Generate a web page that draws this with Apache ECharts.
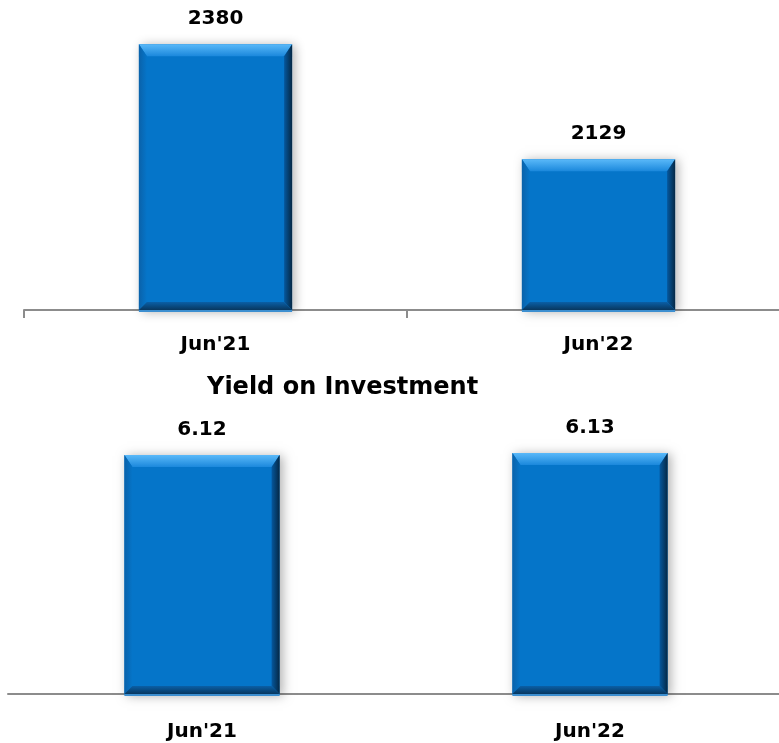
<!DOCTYPE html>
<html>
<head>
<meta charset="utf-8">
<style>
  html, body { margin: 0; padding: 0; background: #ffffff; overflow: hidden; }
  #chart { width: 800px; height: 743px; }
</style>
<script src="https://cdn.jsdelivr.net/npm/echarts@6/dist/echarts.min.js"></script>
</head>
<body>
<div id="chart"></div>
<script>
// Period labels shared by both panels
const categories = ["Jun'21", "Jun'22"];
// Upper panel values
const upperValues = [2380, 2129];
// Lower panel: yield on investment (%)
const yieldValues = [6.12, 6.13];
const yieldTitle = 'Yield on Investment';

const FONT = 'DejaVu Sans';

// Bevelled bar drawn through the axis scales of its own grid
function bevelBar(baseValue) {
  return function (params, api) {
    const idx = api.value(0);
    const val = api.value(1);
    const top = api.coord([idx, val]);
    const base = api.coord([idx, baseValue]);
    const w = api.size([1, 0])[0] * 0.4;
    const x0 = top[0] - w / 2, x1 = top[0] + w / 2;
    const y0 = top[1], y1 = base[1];
    const bs = 8, bt = 12, bb = 8;
    const lg = (x, y, x2, y2, a, b) => new echarts.graphic.LinearGradient(x, y, x2, y2, [
      { offset: 0, color: a }, { offset: 1, color: b }
    ]);
    return {
      type: 'group',
      children: [
        {
          type: 'rect',
          shape: { x: x0, y: y0, width: w, height: y1 - y0 + 1 },
          style: { fill: '#0575c9', shadowBlur: 10, shadowOffsetX: 3, shadowOffsetY: 1, shadowColor: 'rgba(0,0,0,0.3)' }
        },
        {
          type: 'polygon',
          shape: { points: [[x0, y0], [x1, y0], [x1 - bs, y0 + bt], [x0 + bs, y0 + bt]] },
          style: { fill: lg(0, 0, 0, 1, '#5ab9f9', '#1b88dc') }
        },
        {
          type: 'polygon',
          shape: { points: [[x0, y0], [x0 + bs, y0 + bt], [x0 + bs, y1 - bb], [x0, y1]] },
          style: { fill: lg(0, 0, 1, 0, '#0a62aa', '#0575c9') }
        },
        {
          type: 'polygon',
          shape: { points: [[x1, y0], [x1, y1], [x1 - bs, y1 - bb], [x1 - bs, y0 + bt]] },
          style: { fill: lg(0, 0, 1, 0, '#05589e', '#052845') }
        },
        {
          type: 'polygon',
          shape: { points: [[x0, y1], [x0 + bs, y1 - bb], [x1 - bs, y1 - bb], [x1, y1]] },
          style: { fill: lg(0, 0, 0, 1, '#0a5fa6', '#08375f') }
        },
        {
          type: 'rect',
          shape: { x: x0, y: y1, width: w, height: 2 },
          style: { fill: '#3d8fd0' }
        },
        {
          type: 'text',
          style: {
            x: top[0], y: y0 - 25,
            text: String(api.value(1)),
            align: 'center', verticalAlign: 'middle',
            font: 'bold 20px "' + FONT + '"',
            fill: '#000000'
          }
        }
      ]
    };
  };
}

const axisLabelStyle = { color: '#000000', fontFamily: FONT, fontWeight: 'bold', fontSize: 20 };

const chart = echarts.init(document.getElementById('chart'), null, { renderer: 'canvas' });
chart.setOption({
  animation: false,
  backgroundColor: '#ffffff',
  title: {
    text: yieldTitle,
    left: 207, top: 376,
    padding: 0,
    textStyle: { fontFamily: FONT, fontWeight: 'bold', fontSize: 24, color: '#000000' }
  },
  grid: [
    { left: 24, top: 35, width: 766, height: 275 },
    { left: 8, top: 438, width: 776, height: 256 }
  ],
  xAxis: [
    {
      gridIndex: 0, type: 'category', data: categories,
      axisLine: { lineStyle: { color: '#8c8c8c', width: 2 } },
      axisTick: { show: true, length: 8, lineStyle: { color: '#8c8c8c', width: 2 } },
      axisLabel: Object.assign({ margin: 25 }, axisLabelStyle)
    },
    {
      gridIndex: 1, type: 'category', data: categories,
      axisLine: { lineStyle: { color: '#8c8c8c', width: 2 } },
      axisTick: { show: false },
      axisLabel: Object.assign({ margin: 28 }, axisLabelStyle)
    }
  ],
  yAxis: [
    { gridIndex: 0, type: 'value', min: 1800, max: 2400, show: false, splitLine: { show: false } },
    { gridIndex: 1, type: 'value', min: 5, max: 6.2, show: false, splitLine: { show: false } }
  ],
  series: [
    {
      type: 'custom', xAxisIndex: 0, yAxisIndex: 0, clip: false, z: 3,
      renderItem: bevelBar(1800),
      encode: { x: 0, y: 1 },
      data: upperValues.map((v, i) => [i, v])
    },
    {
      type: 'custom', xAxisIndex: 1, yAxisIndex: 1, clip: false, z: 3,
      renderItem: bevelBar(5),
      encode: { x: 0, y: 1 },
      data: yieldValues.map((v, i) => [i, v])
    }
  ]
});
</script>
</body>
</html>
